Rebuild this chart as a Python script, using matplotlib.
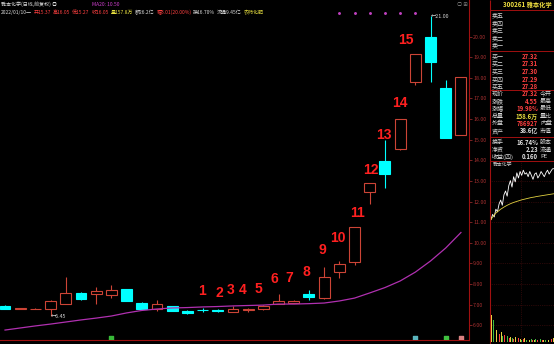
import matplotlib
matplotlib.use('Agg')
import matplotlib.pyplot as plt
from matplotlib.patches import Rectangle

plt.rcParams['font.family'] = ['Noto Sans CJK SC', 'DejaVu Sans']

W, H = 554, 344

# daily candles (qfq), oldest first
opens  = [6.96, 6.80, 6.79, 6.79, 7.05, 7.58, 7.52, 7.48, 7.76, 7.10, 6.79, 6.94, 6.71, 6.75, 6.76, 6.66,
          6.75, 6.78, 7.03, 7.09, 7.50, 7.31, 8.57, 9.08, 12.48, 13.97, 14.54, 17.81, 20.00, 17.52, 15.23]
highs  = [7.00, 6.83, 6.82, 7.22, 8.34, 7.60, 7.86, 7.95, 7.78, 7.12, 7.23, 6.96, 6.76, 6.84, 6.78, 6.95,
          6.85, 6.97, 7.52, 7.21, 7.69, 8.81, 9.14, 10.77, 12.90, 14.98, 16.00, 19.16, 21.00, 17.89, 18.06]
lows   = [6.77, 6.78, 6.77, 6.45, 7.02, 7.25, 7.05, 7.32, 7.16, 6.77, 6.70, 6.69, 6.56, 6.64, 6.66, 6.64,
          6.66, 6.76, 7.02, 7.07, 7.25, 7.29, 8.31, 8.92, 11.88, 12.64, 14.50, 17.65, 17.81, 15.07, 15.23]
closes = [6.79, 6.81, 6.80, 7.19, 7.57, 7.27, 7.67, 7.71, 7.18, 6.79, 7.03, 6.71, 6.58, 6.74, 6.68, 6.80,
          6.76, 6.95, 7.18, 7.19, 7.39, 8.36, 8.96, 10.75, 12.89, 13.32, 16.00, 19.16, 18.78, 15.07, 18.06]
ma20   = [5.77, 5.87, 5.97, 6.06, 6.16, 6.26, 6.35, 6.45, 6.60, 6.72, 6.79, 6.84, 6.86, 6.89, 6.91, 6.94,
          6.96, 6.98, 7.03, 7.03, 7.05, 7.08, 7.18, 7.32, 7.57, 7.83, 8.15, 8.58, 9.12, 9.75, 10.50]

wave_labels = ['1', '2', '3', '4', '5', '6', '7', '8', '9', '10', '11', '12', '13', '14', '15']
wave_x = [12.93, 14.08, 14.84, 15.63, 16.68, 17.70, 18.72, 19.84, 20.89, 21.88, 23.19, 24.08, 24.90, 26.00, 26.38]
wave_y = [7.66, 7.57, 7.69, 7.69, 7.76, 8.25, 8.29, 8.58, 9.64, 10.23, 11.45, 13.53, 15.23, 16.78, 19.84]

signal_idx = [22, 23, 24, 25, 26, 27]
event_idx = [7, 27, 29, 30]
event_col = ['#38b838', '#5ab4bc', '#40c040', '#d88080']

price_ticks = list(range(6, 21))

# right panel
rows_left = ['卖五', '卖四', '卖三', '卖二', '卖一', '买一', '买二', '买三', '买四', '买五',
             '现价', '涨跌', '涨幅', '总量', '外盘', '资产', '换手', '净资', '收益(四)']
rows_val = ['', '', '', '', '', '27.32', '27.31', '27.30', '27.29', '27.28',
            '27.32', '4.55', '19.98%', '158.6万', '786927', '38.6亿', '16.74%', '2.23', '0.160']
rows_val_col = ['w'] * 5 + ['#ff4040'] * 8 + ['#e8e040', '#ff4040'] + ['#e0e0e0'] * 4
rows_right = [''] * 10 + ['今开', '最高', '最低', '量比', '内盘', '市值', '股本', '流通', 'PE']
row_y = [16, 23.5, 31, 38.5, 46, 56.5, 64, 71.5, 79, 86.5, 93.5, 101, 108.5, 116, 123.5, 131, 142.5, 149.5, 156.5]

# intraday (minute) line
intra_price = [23.4, 23.8, 23.6, 24.2, 24.0, 24.6, 24.9, 24.5, 25.3, 25.6, 25.2, 26.0, 26.4, 25.9, 26.7, 26.3,
               27.0, 26.6, 27.1, 26.8, 27.2, 26.9, 27.0, 26.7, 27.1, 26.8, 26.5, 26.9, 27.0, 26.6, 26.8, 27.1,
               26.9, 26.7, 27.0, 27.2, 26.9, 27.1, 27.3, 27.32]
intra_avg = [23.4, 23.6, 23.75, 23.9, 24.0, 24.1, 24.2, 24.28, 24.36, 24.43, 24.5, 24.56, 24.62, 24.67,
             24.72, 24.76, 24.8, 24.84, 24.88, 24.92, 24.95, 24.98, 25.01, 25.04, 25.07, 25.1, 25.12, 25.14,
             25.17, 25.19, 25.21, 25.23, 25.25, 25.27, 25.29, 25.31, 25.33, 25.35, 25.37, 25.39]
intra_vol = [27, 22, 18, 12, 9, 8, 10, 6, 7, 5, 6, 4, 5, 4, 3, 5, 3, 4, 3, 2, 3, 4, 2, 3, 2, 3, 2, 2,
             3, 2, 2, 3, 2, 2, 2, 3, 2, 2, 3, 4]

hdr1 = [('雅本化学(日线,前复权) ◎', '#d8d8d8', 1), ('MA20: 10.50', '#d040d0', 92)]
hdr2 = [('2022/01/10一', '#d8d8d8'), ('开15.37', '#ff4040'), ('高16.05', '#ff4040'), ('低15.27', '#ff4040'),
        ('收16.05', '#ff4040'), ('量157.8万', '#e8e040'), ('额26.2亿', '#d8d8d8'), ('幅3.01(20.00%)', '#ff4040'),
        ('换16.70%', '#d8d8d8'), ('流通9.45亿', '#d8d8d8'), ('农药化肥', '#e8e040')]


def rect(x, y, w, h):
    return [x / W, 1 - (y + h) / H, w / W, h / H]


fig = plt.figure(figsize=(W / 100, H / 100), dpi=100, facecolor='black')

# main kline axes: pixel y = 16 + (21 - p) * 20.62
ax = fig.add_axes(rect(0, 0, 469, 340))
ax.set_facecolor('black')
ax.set_xlim(-0.33, 30.53)
ax.set_ylim(21 - 324 / 20.62, 21 + 16 / 20.62)

up_c = '#cc4436'
dn_c = '#00ffff'
for i in range(len(opens)):
    o, h, l, c = opens[i], highs[i], lows[i], closes[i]
    col = up_c if c >= o else dn_c
    ax.vlines(i, l, h, color=col, lw=0.8, zorder=2)
    face = 'black' if c >= o else dn_c
    ax.add_patch(Rectangle((i - 0.36, min(o, c)), 0.72, max(abs(c - o), 0.02),
                           facecolor=face, edgecolor=col, lw=0.8, zorder=3))

ax.plot(range(len(ma20)), ma20, color='#b030b0', lw=0.9, zorder=4)

for s, x, y in zip(wave_labels, wave_x, wave_y):
    ax.text(x, y, s, color='#ff2020', fontsize=10, fontweight='bold', ha='center', va='center',
            family=['Liberation Sans', 'DejaVu Sans'], zorder=5)

ax.text(3, 6.45, '←6.45', color='#d8d8d8', fontsize=3.8, ha='left', va='center')
ax.text(28, 21.0, '←21.00', color='#d8d8d8', fontsize=3.8, ha='left', va='center')

ax.scatter(signal_idx, [21.15] * len(signal_idx), s=1.2, color='#c040c0', zorder=5)
ax.scatter(event_idx, [5.36] * len(event_idx), s=9, marker='s', color=event_col, zorder=5)

ax.yaxis.tick_right()
ax.set_yticks(price_ticks)
ax.set_yticklabels([f'{v:.2f}' for v in price_ticks])
ax.tick_params(axis='y', colors='#a83030', labelsize=3.8, length=2, width=0.5, pad=1)
ax.set_xticks([])
for s in ['top', 'left']:
    ax.spines[s].set_visible(False)
for s in ['right', 'bottom']:
    ax.spines[s].set_color('#a01010')
    ax.spines[s].set_linewidth(0.8)

# faint grid in the minute panel
low_ticks = [t for t in price_ticks if t <= 13]
ax.hlines(low_ticks, 490 / 469, 554 / 469, transform=ax.get_yaxis_transform(), clip_on=False,
          colors='#501010', lw=0.5, linestyles=':')

# overlay in pixel coords for panel text and lines
ov = fig.add_axes([0, 0, 1, 1])
ov.set_xlim(0, W)
ov.set_ylim(H, 0)
ov.axis('off')
ov.patch.set_alpha(0)

ov.vlines(490, 0, H, color='#a01010', lw=0.8)
ov.vlines(521, 161, H, color='#501010', lw=0.5, linestyles=':')
ov.hlines([10, 51, 90, 137, 161], 490, W, color='#a01010', lw=0.7)

ov.text(503, 5, '300261 雅本化学', color='#f0e040', fontsize=4.5, fontweight='bold', va='center')
ov.text(457, 5, '○ ⊞', color='#909090', fontsize=3.8, va='center')

for lab, val, vc, rl, y in zip(rows_left, rows_val, rows_val_col, rows_right, row_y):
    ov.text(492, y, lab, color='#d8d8d8', fontsize=4.3, va='center')
    ov.text(538, y, val, color=vc, fontsize=4.3, va='center', ha='right', fontweight='bold')
    ov.text(540, y, rl, color='#d8d8d8', fontsize=4.3, va='center')

ov.text(493, 164.5, '雅本化学', color='#c8c8c8', fontsize=3.5, va='center')

# header, laid out segment by segment
for s, c, x in hdr1:
    ov.text(x, 4.5, s, color=c, fontsize=3.6, va='center')
fig.canvas.draw()
r = fig.canvas.get_renderer()
x = 1
for s, c in hdr2:
    t = ov.text(x, 12.5, s, color=c, fontsize=3.6, va='center')
    x += t.get_window_extent(r).width + 1.8

# minute chart
ia = fig.add_axes(rect(491, 165, 63, 65))
ia.set_xlim(0, len(intra_price) - 1)
ia.set_ylim(22.6, 27.6)
ia.axis('off')
ia.patch.set_alpha(0)
ia.plot(intra_price, color='white', lw=0.6)
ia.plot(intra_avg, color='#e0d040', lw=0.6)

va = fig.add_axes(rect(491, 312, 63, 30))
va.set_xlim(-0.5, len(intra_vol) - 0.5)
va.set_ylim(0, 30)
va.axis('off')
va.patch.set_alpha(0)
vcols = ['#e8d040' if i % 3 == 0 else ('#40c040' if i % 3 == 1 else '#ff4040') for i in range(len(intra_vol))]
va.bar(range(len(intra_vol)), intra_vol, width=0.5, color=vcols)

fig.savefig('out.png', dpi=100, facecolor='black')
